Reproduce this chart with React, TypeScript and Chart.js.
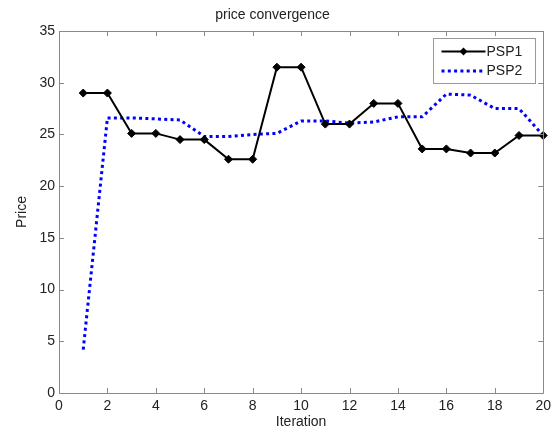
import { useEffect, useRef } from "react";
import { Chart, registerables } from "chart.js";

Chart.register(...registerables);

const iterations = [1, 2, 3, 4, 5, 6, 7, 8, 9, 10, 11, 12, 13, 14, 15, 16, 17, 18, 19, 20];
const psp1 = [29.0, 29.0, 25.1, 25.1, 24.5, 24.5, 22.6, 22.6, 31.5, 31.5, 26.0, 26.0, 28.0, 28.0, 23.6, 23.6, 23.2, 23.2, 24.9, 24.9];
const psp2 = [4.2, 26.6, 26.6, 26.5, 26.4, 24.8, 24.8, 25.0, 25.1, 26.3, 26.3, 26.1, 26.2, 26.7, 26.7, 28.9, 28.8, 27.5, 27.5, 24.9];
const xTicks = [0, 2, 4, 6, 8, 10, 12, 14, 16, 18, 20];
const yTicks = [0, 5, 10, 15, 20, 25, 30, 35];
const seriesNames = ["PSP1", "PSP2"];
const chartTitle = "price convergence";
const xTitle = "Iteration";
const yTitle = "Price";

const FONT = "'Liberation Sans', Arial, sans-serif";
const TEXT = "#222222";
const AXIS = "#8a8a8a";

const axesBoxPlugin = {
  id: "axesBox",
  afterDraw(chart: any) {
    const { ctx, chartArea } = chart;
    const xs = chart.scales.x;
    const ys = chart.scales.y;
    const { left, right, top, bottom } = chartArea;
    const tl = 5;
    ctx.save();
    ctx.strokeStyle = AXIS;
    ctx.lineWidth = 1;
    ctx.beginPath();
    ctx.rect(Math.round(left) + 0.5, Math.round(top) + 0.5, Math.round(right - left), Math.round(bottom - top));
    xTicks.forEach((v) => {
      const px = Math.round(xs.getPixelForValue(v)) + 0.5;
      ctx.moveTo(px, bottom);
      ctx.lineTo(px, bottom - tl);
      ctx.moveTo(px, top);
      ctx.lineTo(px, top + tl);
    });
    yTicks.forEach((v) => {
      const py = Math.round(ys.getPixelForValue(v)) + 0.5;
      ctx.moveTo(left, py);
      ctx.lineTo(left + tl, py);
      ctx.moveTo(right, py);
      ctx.lineTo(right - tl, py);
    });
    ctx.stroke();

    // legend
    const lw = 102;
    const lh = 45;
    const lx = Math.round(right - 8 - lw) + 0.5;
    const ly = Math.round(top + 7) + 0.5;
    ctx.fillStyle = "#ffffff";
    ctx.fillRect(lx, ly, lw, lh);
    ctx.strokeStyle = "#9a9a9a";
    ctx.strokeRect(lx, ly, lw, lh);

    const y1 = ly + 13;
    const y2 = ly + 32.5;
    const sx0 = lx + 8;
    const sx1 = lx + 52;
    ctx.strokeStyle = "#000000";
    ctx.lineWidth = 2;
    ctx.beginPath();
    ctx.moveTo(sx0, y1);
    ctx.lineTo(sx1, y1);
    ctx.stroke();
    const mx = (sx0 + sx1) / 2;
    ctx.fillStyle = "#000000";
    ctx.beginPath();
    ctx.moveTo(mx, y1 - 4);
    ctx.lineTo(mx + 4, y1);
    ctx.lineTo(mx, y1 + 4);
    ctx.lineTo(mx - 4, y1);
    ctx.closePath();
    ctx.fill();

    ctx.strokeStyle = "#0000ff";
    ctx.lineWidth = 3;
    ctx.setLineDash([3, 3.3]);
    ctx.beginPath();
    ctx.moveTo(sx0, y2);
    ctx.lineTo(sx1, y2);
    ctx.stroke();
    ctx.setLineDash([]);

    ctx.fillStyle = TEXT;
    ctx.font = `14px ${FONT}`;
    ctx.textAlign = "left";
    ctx.textBaseline = "middle";
    ctx.fillText(seriesNames[0], lx + 53, y1 + 0.5);
    ctx.fillText(seriesNames[1], lx + 53, y2 + 0.5);
    ctx.restore();
  },
};

export default function App() {
  const canvasRef = useRef<HTMLCanvasElement | null>(null);

  useEffect(() => {
    document.body.style.margin = "0";
    const canvas = canvasRef.current;
    if (!canvas) return;
    const chart = new Chart(canvas, {
      type: "line",
      data: {
        datasets: [
          {
            label: seriesNames[0],
            data: iterations.map((x, i) => ({ x, y: psp1[i] })),
            borderColor: "#000000",
            backgroundColor: "#000000",
            borderWidth: 2,
            pointStyle: "rectRot",
            pointRadius: 4,
            pointBorderWidth: 1,
            tension: 0,
            clip: false as any,
          },
          {
            label: seriesNames[1],
            data: iterations.map((x, i) => ({ x, y: psp2[i] })),
            borderColor: "#0000ff",
            backgroundColor: "#0000ff",
            borderWidth: 3,
            borderDash: [3, 3.3],
            pointRadius: 0,
            tension: 0,
            clip: false as any,
          },
        ],
      },
      options: {
        animation: false,
        responsive: false,
        maintainAspectRatio: false,
        events: [],
        layout: { padding: { left: 0, right: 11, top: 0, bottom: 0 } },
        plugins: {
          legend: { display: false },
          tooltip: { enabled: false },
          title: {
            display: true,
            text: chartTitle,
            color: TEXT,
            font: { family: FONT, size: 14, weight: "normal" as any, lineHeight: 1.2 },
            padding: { top: 7, bottom: 7.2 },
          },
        },
        scales: {
          x: {
            type: "linear",
            min: 0,
            max: 20,
            afterFit: (s: any) => {
              s.height = 38;
            },
            afterBuildTicks: (s: any) => {
              s.ticks = xTicks.map((v) => ({ value: v }));
            },
            grid: { display: false, drawTicks: false },
            border: { display: false },
            ticks: {
              color: TEXT,
              font: { family: FONT, size: 14 },
              padding: 5,
              maxRotation: 0,
              autoSkip: false,
            },
            title: {
              display: true,
              text: xTitle,
              color: TEXT,
              font: { family: FONT, size: 14 },
              padding: { top: 0, bottom: 0 },
            },
          },
          y: {
            type: "linear",
            min: 0,
            max: 35,
            afterFit: (s: any) => {
              s.width = 59;
            },
            afterBuildTicks: (s: any) => {
              s.ticks = yTicks.map((v) => ({ value: v }));
            },
            grid: { display: false, drawTicks: false },
            border: { display: false },
            ticks: {
              color: TEXT,
              font: { family: FONT, size: 14 },
              padding: 4,
              autoSkip: false,
            },
            title: {
              display: true,
              text: yTitle,
              color: TEXT,
              font: { family: FONT, size: 14 },
              padding: { top: 14, bottom: 0 },
            },
          },
        },
      },
      plugins: [axesBoxPlugin],
    });
    return () => chart.destroy();
  }, []);

  return (
    <div style={{ width: 556, height: 431, background: "#ffffff" }}>
      <canvas ref={canvasRef} width={556} height={431} style={{ display: "block" }} />
    </div>
  );
}
